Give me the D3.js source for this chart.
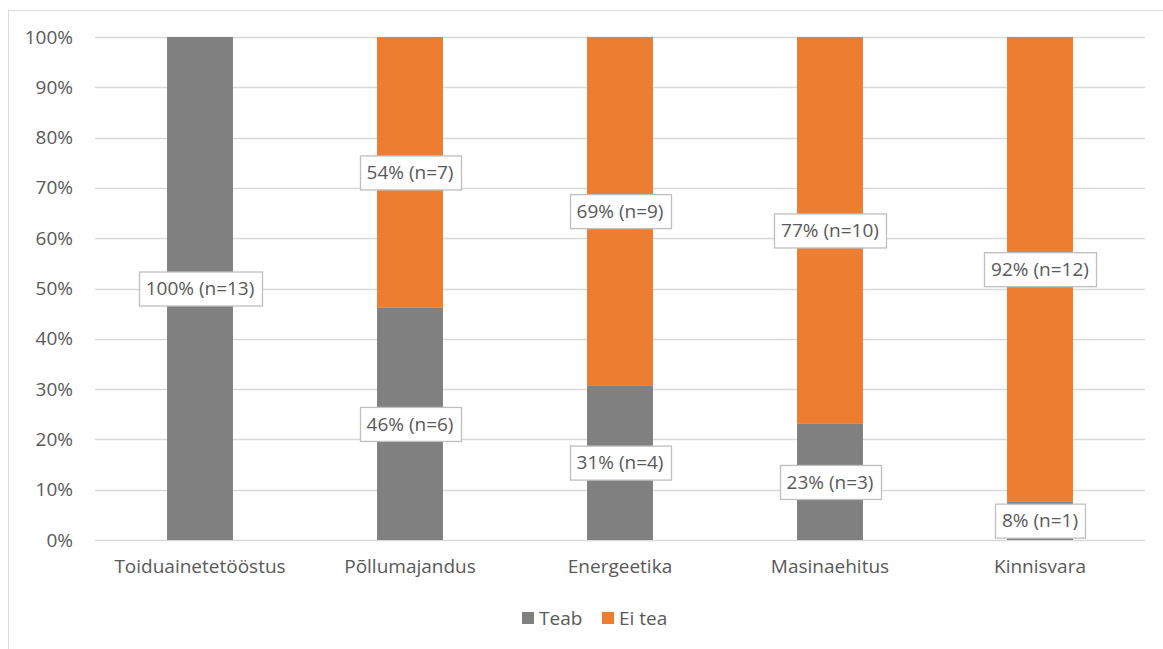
<!DOCTYPE html>
<html>
<head>
<meta charset="utf-8">
<script src="https://cdn.jsdelivr.net/npm/d3@7"></script>
<style>
  body { margin: 0; background: #fff; }
  text { font-family: "Open Sans", "Liberation Sans", sans-serif; fill: #595959; }
</style>
</head>
<body>
<div id="chart"></div>
<script>
// data
var categories = ["Toiduainetetööstus", "Põllumajandus", "Energeetika", "Masinaehitus", "Kinnisvara"];
var teabPct = [100, 46.15, 30.77, 23.08, 7.69];
var eiTeaPct = [0, 53.85, 69.23, 76.92, 92.31];
var teabN = [13, 6, 4, 3, 1];
var eiTeaN = [0, 7, 9, 10, 12];
var yTicks = [0, 10, 20, 30, 40, 50, 60, 70, 80, 90, 100];
var seriesNames = ["Teab", "Ei tea"];
var colors = ["#808080", "#ed7d31"];

var W = 1163, H = 649;
var plotLeft = 95, plotRight = 1145, plotTop = 37, plotBottom = 540;
var fontSize = "19px";

var svg = d3.select("#chart").append("svg")
  .attr("width", W)
  .attr("height", H);

// outer frame
svg.append("rect")
  .attr("x", 8.5).attr("y", 10.5)
  .attr("width", W + 20).attr("height", H + 20)
  .attr("fill", "none")
  .attr("stroke", "#d9d9d9");

var x = d3.scaleBand()
  .domain(categories)
  .range([plotLeft, plotRight])
  .paddingInner(0.686)
  .paddingOuter(0.343);

var y = d3.scaleLinear()
  .domain([0, 100])
  .range([plotBottom, plotTop]);

// gridlines
svg.append("g")
  .selectAll("line")
  .data(yTicks)
  .enter()
  .append("line")
  .attr("x1", plotLeft).attr("x2", plotRight)
  .attr("y1", function(d) { return Math.round(y(d)) + 0.5; })
  .attr("y2", function(d) { return Math.round(y(d)) + 0.5; })
  .attr("stroke", "#d9d9d9")
  .attr("stroke-width", 1.3);

// y axis labels
var yAxis = d3.axisLeft(y)
  .tickValues(yTicks)
  .tickFormat(function(d) { return d + "%"; })
  .tickSize(0)
  .tickPadding(0);
var yg = svg.append("g")
  .attr("transform", "translate(73,0)")
  .call(yAxis);
yg.select(".domain").remove();
yg.attr("font-family", null).attr("font-size", null);
yg.selectAll("text")
  .style("font-size", fontSize)
  .attr("fill", "#595959");

// x axis labels
var xAxis = d3.axisBottom(x).tickSize(0).tickPadding(0);
var xg = svg.append("g")
  .attr("transform", "translate(0," + (plotBottom + 19) + ")")
  .call(xAxis);
xg.select(".domain").remove();
xg.attr("font-family", null).attr("font-size", null);
xg.selectAll("text")
  .style("font-size", fontSize)
  .attr("fill", "#595959");

// stacked bars
var rows = categories.map(function(c, i) {
  return { cat: c, teab: teabPct[i], eitea: eiTeaPct[i], nT: teabN[i], nE: eiTeaN[i] };
});
var stack = d3.stack().keys(["teab", "eitea"]);
var layers = stack(rows);

var barGroups = svg.selectAll(".layer")
  .data(layers)
  .enter()
  .append("g")
  .attr("class", "layer")
  .attr("fill", function(d, i) { return colors[i]; });

barGroups.selectAll("rect")
  .data(function(d) { return d; })
  .enter()
  .append("rect")
  .attr("x", function(d) { return x(d.data.cat); })
  .attr("width", x.bandwidth())
  .attr("y", function(d) { return y(d[1]); })
  .attr("height", function(d) { return y(d[0]) - y(d[1]); });

// data labels
var labelData = [];
layers.forEach(function(layer, li) {
  layer.forEach(function(d) {
    var pct = li === 0 ? d.data.teab : d.data.eitea;
    var n = li === 0 ? d.data.nT : d.data.nE;
    if (pct <= 0) return;
    labelData.push({
      cx: x(d.data.cat) + x.bandwidth() / 2,
      cy: (y(d[0]) + y(d[1])) / 2,
      text: Math.round(pct) + "% (n=" + n + ")"
    });
  });
});

var labels = svg.append("g")
  .selectAll("g")
  .data(labelData)
  .enter()
  .append("g")
  .attr("transform", function(d) { return "translate(" + d.cx + "," + d.cy + ")"; });

labels.append("text")
  .attr("text-anchor", "middle")
  .attr("dy", "0.35em")
  .style("font-size", fontSize)
  .text(function(d) { return d.text; })
  .each(function(d) { d.bbox = this.getBBox(); });

labels.insert("rect", "text")
  .attr("x", function(d) { return Math.round(d.bbox.x - 7) + 0.5; })
  .attr("y", -16.5)
  .attr("width", function(d) { return Math.round(d.bbox.width + 14); })
  .attr("height", 34)
  .attr("fill", "#fff")
  .attr("stroke", "#bfbfbf")
  .attr("stroke-width", 1.3);

// legend
var legend = svg.append("g")
  .attr("transform", "translate(522,618)");
var legItems = legend.selectAll("g")
  .data(seriesNames)
  .enter()
  .append("g")
  .attr("transform", function(d, i) { return "translate(" + (i * 80) + ",0)"; });
legItems.append("rect")
  .attr("x", 0).attr("y", -6)
  .attr("width", 12).attr("height", 12)
  .attr("fill", function(d, i) { return colors[i]; });
legItems.append("text")
  .attr("x", 17)
  .attr("dy", "0.35em")
  .style("font-size", fontSize)
  .text(function(d) { return d; });
</script>
</body>
</html>
